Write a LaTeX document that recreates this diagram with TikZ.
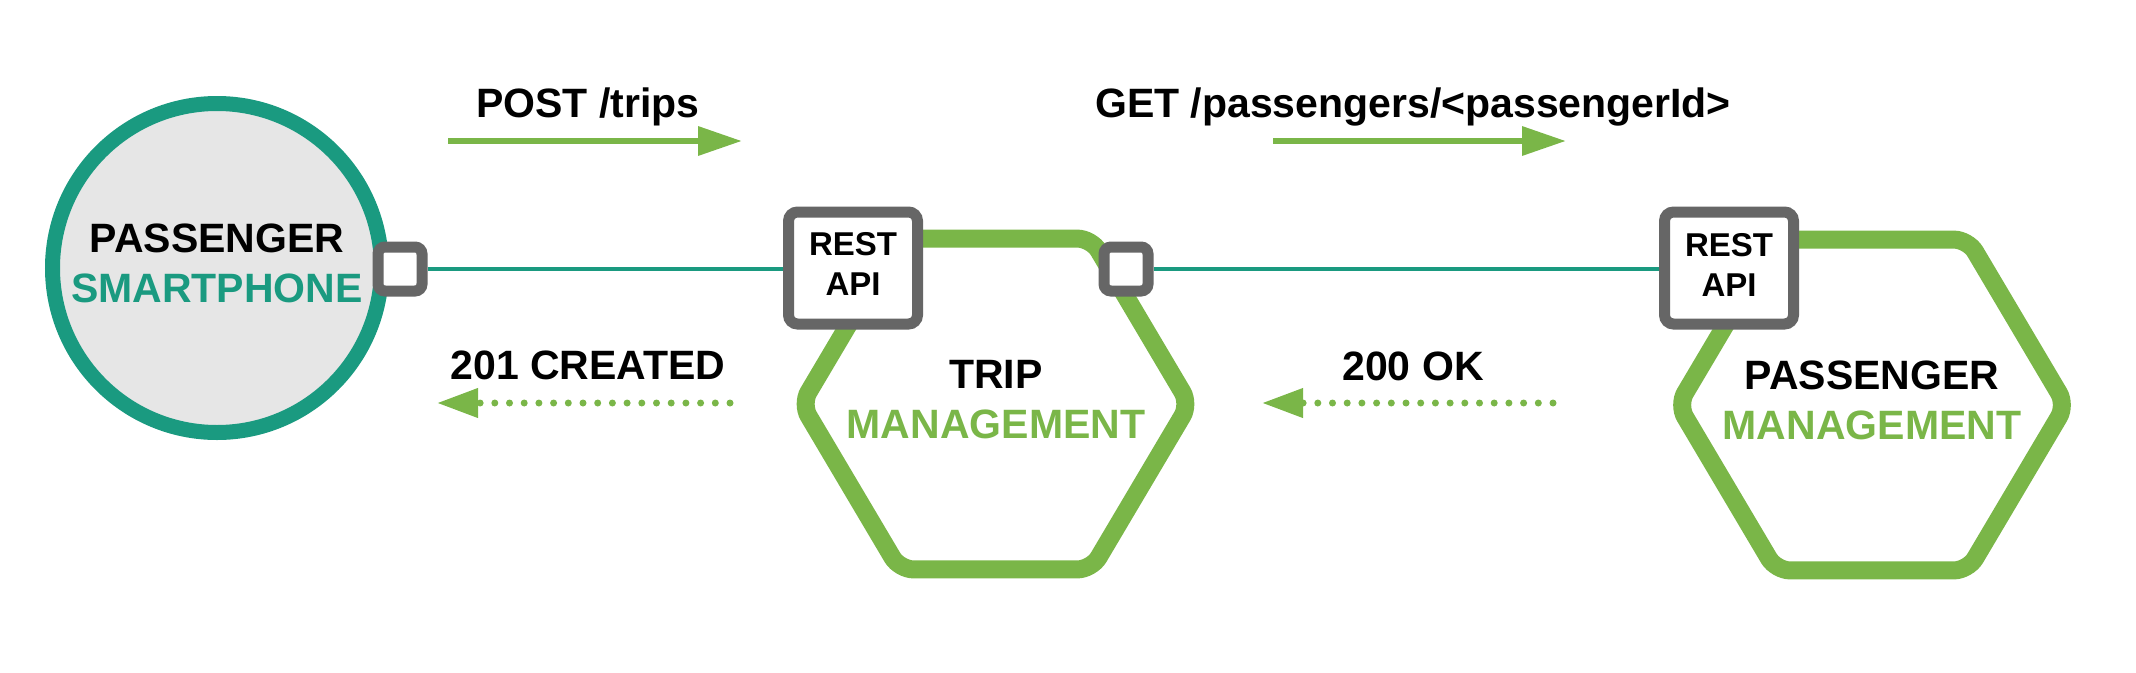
\documentclass[tikz,border=0pt]{standalone}
\usepackage{fontspec}
\setmainfont{Liberation Sans}
\usetikzlibrary{arrows.meta}
\definecolor{tealc}{HTML}{1A9A80}
\definecolor{greenc}{HTML}{7AB648}
\definecolor{grayc}{HTML}{666666}
\definecolor{circfill}{HTML}{E6E6E6}
\begin{document}
\begin{tikzpicture}[x=1pt,y=-1pt,
  big/.style={font=\fontsize{41}{49}\selectfont\bfseries, inner sep=0pt, anchor=base},
  small/.style={font=\fontsize{33}{40}\selectfont\bfseries, inner sep=0pt, anchor=base},
  port/.style={draw=grayc, line width=11pt, fill=white, minimum size=44pt, inner sep=0pt, rounded corners=7pt},
  restbox/.style={draw=grayc, line width=11pt, fill=white, minimum width=129pt, minimum height=112pt, inner sep=0pt, rounded corners=9pt},
  hexline/.style={draw=greenc, line width=18pt, rounded corners=14pt, fill=white},
  wire/.style={draw=tealc, line width=4.5pt},
  reqarrow/.style={draw=greenc, line width=6.5pt, -{Triangle[length=44pt,width=28pt]}},
  resarrow/.style={draw=greenc, line width=7pt, line cap=round, dash pattern=on 0pt off 14.7pt, -{Triangle[length=41pt,width=28pt]}}
]
\useasboundingbox (0,0) rectangle (2136,672);

% hexagons
\def\R{194}\def\T{96}\def\H{165.4}
\draw[hexline] (995.5-\R,404) -- (995.5-\T,404-\H) -- (995.5+\T,404-\H) -- (995.5+\R,404) -- (995.5+\T,404+\H) -- (995.5-\T,404+\H) -- cycle;
\draw[hexline] (1872-\R,405) -- (1872-\T,405-\H) -- (1872+\T,405-\H) -- (1872+\R,405) -- (1872+\T,405+\H) -- (1872-\T,405+\H) -- cycle;

% passenger smartphone
\node[circle, draw=tealc, line width=15pt, fill=circfill, minimum size=329pt, inner sep=0pt] (phone) at (217,268) {};
\node[big] (phoneA) at (217,252) {PASSENGER};
\node[big, text=tealc] (phoneB) at (217,302) {SMARTPHONE};

% ports and REST boxes
\node[port] (p1) at (400,269) {};
\node[restbox] (r1) at (853,268) {};
\node[small] (r1a) at (853,255) {REST};
\node[small] (r1b) at (853,295) {API};
\node[port] (p2) at (1126,269) {};
\node[restbox] (r2) at (1729,268) {};
\node[small] (r2a) at (1729,256) {REST};
\node[small] (r2b) at (1729,296) {API};

% hexagon labels
\node[big] (tripA) at (996,388) {TRIP};
\node[big, text=greenc] (tripB) at (996,438) {MANAGEMENT};
\node[big] (pmA) at (1872,389) {PASSENGER};
\node[big, text=greenc] (pmB) at (1872,439) {MANAGEMENT};

% wires
\draw[wire] (p1.east) -- (p1.east -| r1.west);
\draw[wire] (p2.east) -- (p2.east -| r2.west);

% request / response arrows
\node[big] (postL) at (588,117) {POST /trips};
\coordinate (postS) at (448,141);
\coordinate (postE) at (742,141);
\draw[reqarrow] (postS) -- (postE);

\node[big] (getL) at (1413,117) {GET /passengers/<passengerId>};
\coordinate (getS) at (1273,141);
\coordinate (getE) at (1566,141);
\draw[reqarrow] (getS) -- (getE);

\node[big] (crL) at (588,379) {201 CREATED};
\coordinate (crS) at (730,403);
\coordinate (crE) at (437,403);
\draw[resarrow] (crS) -- (crE);

\node[big] (okL) at (1413,380) {200 OK};
\coordinate (okS) at (1553,403);
\coordinate (okE) at (1262,403);
\draw[resarrow] (okS) -- (okE);
\end{tikzpicture}
\end{document}
